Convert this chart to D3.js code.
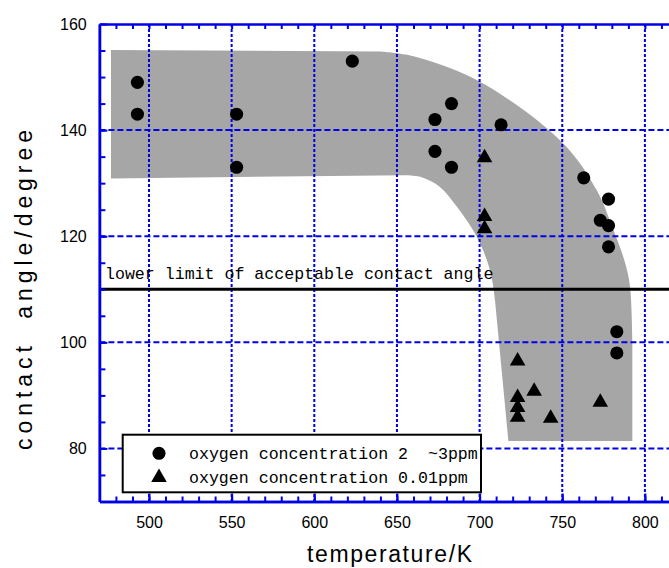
<!DOCTYPE html>
<html>
<head>
<meta charset="utf-8">
<script src="https://cdn.jsdelivr.net/npm/d3@7"></script>
<style>
  body { margin: 0; background: #fff; }
  svg { display: block; }
  text { font-family: "Liberation Sans", Arial, sans-serif; }
</style>
</head>
<body>
<div id="chart"></div>
<script>
// oxygen concentration 2~3 ppm (circles)
var circleTemp  = [493, 493, 553, 553, 623, 673, 673, 683, 683, 713, 763, 773, 778, 778, 778, 783, 783];
var circleAngle = [149, 143, 143, 133, 153, 142, 136, 145, 133, 141, 131, 123, 127, 122, 118, 102, 98];

// oxygen concentration 0.01 ppm (triangles)
var triTemp  = [703, 703, 703, 723, 723, 723, 723, 733, 743, 773];
var triAngle = [134.8, 123.7, 121.4, 96.5, 89.6, 87.7, 85.9, 90.8, 85.7, 88.7];

// grey band outline (temperature, angle), pieces: straight / curved
var bandLeft   = [[477, 130.9], [477, 155.1], [640, 154.8]];
var bandOuter  = [[640, 154.8], [660, 153.9], [700.2, 149.1], [750.6, 137.5], [770.8, 128.7],
                  [780.9, 121.2], [788, 115], [791, 110.5], [792.4, 100]];
var bandBottom = [[792.4, 100], [792.4, 81.4], [717.4, 81.4], [709.3, 108]];
var bandInner  = [[709.3, 108], [706.3, 113.6], [698.3, 119.9], [686.2, 125.6], [676, 129.3], [664, 131.2], [655, 131.5]];

var xTicks = [500, 550, 600, 650, 700, 750, 800];
var yTicks = [80, 100, 120, 140, 160];
var lowerLimit = 110;

var width = 669, height = 568;
var blue = "#0000e6";

var svg = d3.select("#chart").append("svg")
    .attr("width", width)
    .attr("height", height);

var x = d3.scaleLinear().domain([470, 830]).range([99.4, 694.5]);
var y = d3.scaleLinear().domain([70, 160]).range([501.5, 24]);

// grey band
function seg(pts, curve) {
    return d3.line()
        .x(function (d) { return x(d[0]); })
        .y(function (d) { return y(d[1]); })
        .curve(curve)(pts);
}
var bandPath = seg(bandLeft, d3.curveLinear)
    + seg(bandOuter, d3.curveCatmullRom).replace(/^M/, "L")
    + seg(bandBottom, d3.curveLinear).replace(/^M/, "L")
    + seg(bandInner, d3.curveCatmullRom).replace(/^M/, "L")
    + "Z";
svg.append("path")
    .attr("d", bandPath)
    .attr("fill", "#a6a6a6");

// grid
svg.selectAll(".vgrid")
    .data(xTicks)
    .enter()
    .append("line")
    .attr("x1", function (d) { return x(d); })
    .attr("x2", function (d) { return x(d); })
    .attr("y1", y(160))
    .attr("y2", y(70))
    .attr("stroke", blue)
    .attr("stroke-width", 2)
    .attr("stroke-dasharray", "3,2");

svg.selectAll(".hgrid")
    .data(yTicks.filter(function (d) { return d < 160; }))
    .enter()
    .append("line")
    .attr("x1", x(470))
    .attr("x2", x(830))
    .attr("y1", function (d) { return y(d); })
    .attr("y2", function (d) { return y(d); })
    .attr("stroke", blue)
    .attr("stroke-width", 2)
    .attr("stroke-dasharray", "6,3");

// lower limit line
svg.append("line")
    .attr("x1", x(470))
    .attr("x2", x(830))
    .attr("y1", y(lowerLimit))
    .attr("y2", y(lowerLimit))
    .attr("stroke", "#000")
    .attr("stroke-width", 3);

svg.append("text")
    .attr("x", 105)
    .attr("y", y(lowerLimit) - 10.5)
    .style("font-family", "'Liberation Mono', 'DejaVu Sans Mono', monospace")
    .style("font-size", "16.6px")
    .text("lower limit of acceptable contact angle");

// axes
function styleAxis(g) {
    g.selectAll(".domain").attr("stroke", blue).attr("stroke-width", 2.5);
    g.selectAll(".tick line").attr("stroke", blue).attr("stroke-width", 2);
    g.selectAll(".tick text")
        .attr("fill", "#000")
        .style("font-size", "16px")
        .style("font-family", "'Liberation Sans', Arial, sans-serif");
}

var xMinor = d3.range(480, 830, 10);
var yMinor = d3.range(75, 160, 5);

svg.append("g")
    .attr("transform", "translate(0," + y(70) + ")")
    .call(d3.axisBottom(x).tickValues(xMinor).tickSize(-5).tickSizeOuter(0).tickFormat(""))
    .call(styleAxis);
svg.append("g")
    .attr("transform", "translate(0," + y(70) + ")")
    .call(d3.axisBottom(x).tickValues(xTicks).tickSize(-8).tickSizeOuter(0).tickPadding(15))
    .call(styleAxis);

svg.append("g")
    .attr("transform", "translate(0," + y(160) + ")")
    .call(d3.axisTop(x).tickValues(xMinor).tickSize(-5).tickSizeOuter(0).tickFormat(""))
    .call(styleAxis);

svg.append("g")
    .attr("transform", "translate(" + x(470) + ",0)")
    .call(d3.axisLeft(y).tickValues(yMinor).tickSize(-6).tickSizeOuter(0).tickFormat(""))
    .call(styleAxis);
svg.append("g")
    .attr("transform", "translate(" + x(470) + ",0)")
    .call(d3.axisLeft(y).tickValues(yTicks).tickSize(-8).tickSizeOuter(0).tickPadding(12.7))
    .call(styleAxis);

// markers
var circleData = circleTemp.map(function (t, i) { return { t: t, a: circleAngle[i] }; });
var triData = triTemp.map(function (t, i) { return { t: t, a: triAngle[i] }; });

svg.selectAll(".circ")
    .data(circleData)
    .enter()
    .append("path")
    .attr("d", d3.symbol().type(d3.symbolCircle).size(135))
    .attr("transform", function (d) { return "translate(" + x(d.t) + "," + y(d.a) + ")"; })
    .attr("fill", "#000");

svg.selectAll(".tri")
    .data(triData)
    .enter()
    .append("path")
    .attr("d", d3.symbol().type(d3.symbolTriangle).size(105))
    .attr("transform", function (d) { return "translate(" + x(d.t) + "," + y(d.a) + ")"; })
    .attr("fill", "#000");

// legend
var legend = svg.append("g");
legend.append("rect")
    .attr("x", 122.7)
    .attr("y", 434.7)
    .attr("width", 358.3)
    .attr("height", 57.6)
    .attr("fill", "#fff")
    .attr("stroke", "#000")
    .attr("stroke-width", 2);

legend.append("path")
    .attr("d", d3.symbol().type(d3.symbolCircle).size(135))
    .attr("transform", "translate(159,453.3)");
legend.append("path")
    .attr("d", d3.symbol().type(d3.symbolTriangle).size(105))
    .attr("transform", "translate(159,477.5)");

legend.append("text")
    .attr("x", 189)
    .attr("y", 459.3)
    .style("font-family", "'Liberation Mono', 'DejaVu Sans Mono', monospace")
    .style("font-size", "16.6px")
    .style("white-space", "pre")
    .text("oxygen concentration 2  ~3ppm");
legend.append("text")
    .attr("x", 189)
    .attr("y", 483.3)
    .style("font-family", "'Liberation Mono', 'DejaVu Sans Mono', monospace")
    .style("font-size", "16.6px")
    .text("oxygen concentration 0.01ppm");

// axis titles
svg.append("text")
    .attr("x", 389.5)
    .attr("y", 562)
    .attr("text-anchor", "middle")
    .attr("textLength", 165)
    .attr("lengthAdjust", "spacing")
    .style("font-size", "23px")
    .text("temperature/K");

svg.append("text")
    .attr("transform", "translate(32,290) rotate(-90)")
    .attr("text-anchor", "middle")
    .attr("textLength", 320)
    .attr("lengthAdjust", "spacing")
    .style("font-size", "23px")
    .style("white-space", "pre")
    .text("contact  angle/degree");
</script>
</body>
</html>
